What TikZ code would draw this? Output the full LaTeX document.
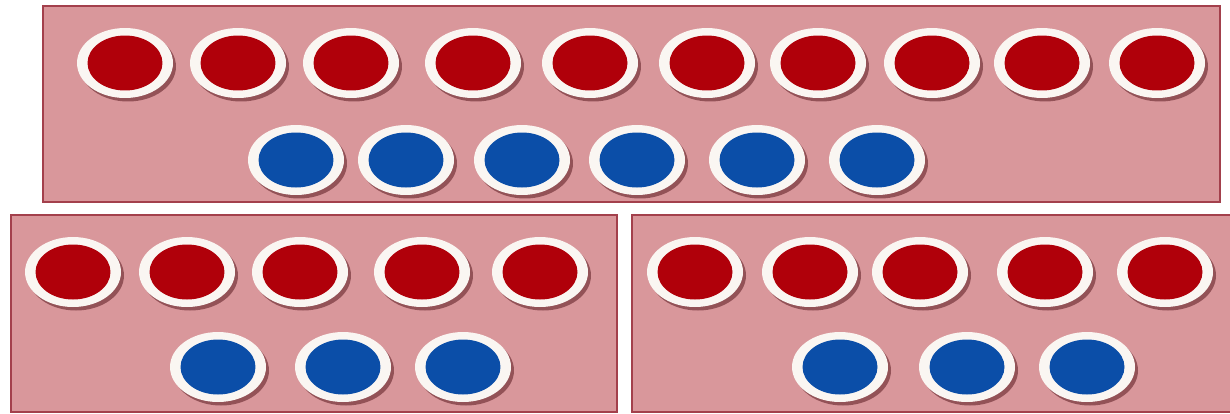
\documentclass[tikz,border=0pt]{standalone}
\usetikzlibrary{shapes.geometric,shadows}
\definecolor{panelfill}{HTML}{D9979B}
\definecolor{paneledge}{HTML}{A3404C}
\definecolor{chipred}{HTML}{B0000A}
\definecolor{chipblue}{HTML}{0B4EA8}
\definecolor{ringwhite}{HTML}{FAF6F2}
\definecolor{shadowcol}{HTML}{5A1A20}
\begin{document}
\begin{tikzpicture}[x=0.02cm,y=-0.02cm,
  panel/.style={draw=paneledge,fill=panelfill,line width=0.04cm},
  chip/.style={ellipse,minimum width=1.92cm,minimum height=1.40cm,inner sep=0pt,
    fill=ringwhite,draw=none,
    drop shadow={shadow xshift=0.06cm,shadow yshift=-0.07cm,opacity=0.55,fill=shadowcol},
    path picture={\fill[#1] (path picture bounding box.center) ellipse [x radius=0.75cm, y radius=0.55cm];}},
  redchip/.style={chip=chipred},
  bluechip/.style={chip=chipblue}]
\path[use as bounding box] (0,0) rectangle (1230,413);
\clip (0,0) rectangle (1230,413);
% panels
\draw[panel] (43,6) rectangle (1220,202);
\draw[panel] (11,215) rectangle (617,412);
\draw[panel] (632,215) rectangle (1245,412);
% top panel
\foreach \x [count=\i] in {125,238,351,473,590,707,818,932,1042,1157}
  \node[redchip] (tr\i) at (\x,63) {};
\foreach \x [count=\i] in {296,406,522,637,757,877}
  \node[bluechip] (tb\i) at (\x,160) {};
% bottom-left panel
\foreach \x [count=\i] in {73,187,300,422,540}
  \node[redchip] (lr\i) at (\x,272) {};
\foreach \x [count=\i] in {218,343,463}
  \node[bluechip] (lb\i) at (\x,367) {};
% bottom-right panel
\foreach \x [count=\i] in {695,810,920,1045,1165}
  \node[redchip] (rr\i) at (\x,272) {};
\foreach \x [count=\i] in {840,967,1087}
  \node[bluechip] (rb\i) at (\x,367) {};
\end{tikzpicture}
\end{document}
